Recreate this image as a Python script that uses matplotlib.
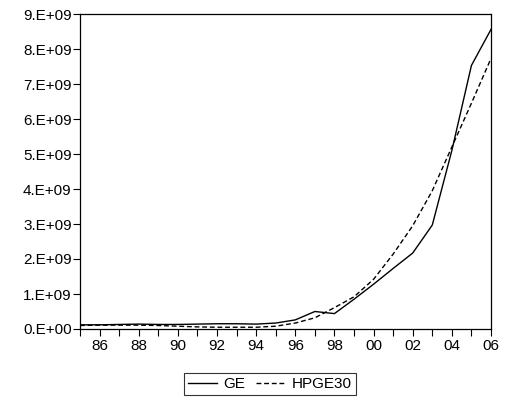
import numpy as np
import matplotlib
matplotlib.use('Agg')
import matplotlib.pyplot as plt

plt.rcParams['font.family'] = ['Liberation Sans', 'DejaVu Sans']

# Annual series, 1985-2006
years = list(range(1985, 2007))
ge = [0.12, 0.12, 0.13, 0.14, 0.13, 0.13, 0.14, 0.15, 0.15, 0.14, 0.17, 0.26,
      0.50, 0.44, 0.85, 1.28, 1.73, 2.17, 2.97, 5.10, 7.53, 8.56]
hpge30 = [0.10, 0.11, 0.11, 0.11, 0.10, 0.08, 0.06, 0.05, 0.05, 0.05, 0.08, 0.17,
          0.32, 0.61, 0.92, 1.42, 2.14, 2.95, 3.95, 5.20, 6.45, 7.73]

fig = plt.figure(figsize=(5.06, 4.03), dpi=100)
ax = fig.add_axes([80 / 506, 1 - 329 / 403, 411 / 506, 315 / 403])

x = np.array(years)
ax.plot(x, np.array(ge) * 1e9, color='black', lw=1.0, label='GE')
ax.plot(x, np.array(hpge30) * 1e9, color='black', lw=1.0, ls=(0, (3.5, 2)), label='HPGE30')

ax.set_xlim(1985, 2006)
ax.set_ylim(0, 9e9)
ax.set_xticks(years, minor=True)
ax.set_xticks(range(1986, 2007, 2))
ax.set_xticklabels(['%02d' % (y % 100) for y in range(1986, 2007, 2)])
ax.set_yticks(np.arange(0, 10) * 1e9)
ax.set_yticklabels(['%d.E+%s' % (v, '09' if v else '00') for v in range(10)])
ax.tick_params(axis='x', which='both', direction='out', length=5, width=0.8, labelsize=11, pad=2)
ax.tick_params(axis='y', direction='out', length=5, width=0.8, labelsize=11, pad=1)
for s in ax.spines.values():
    s.set_linewidth(0.9)

leg = fig.legend(loc='center', bbox_to_anchor=(270 / 506, 1 - 384 / 403), ncol=2,
                 frameon=True, fancybox=False, edgecolor='black', fontsize=11,
                 handlelength=1.9, columnspacing=0.7, handletextpad=0.45, borderpad=0.25,
                 borderaxespad=0)
leg.get_frame().set_linewidth(0.8)

fig.savefig('out.png', dpi=100)
